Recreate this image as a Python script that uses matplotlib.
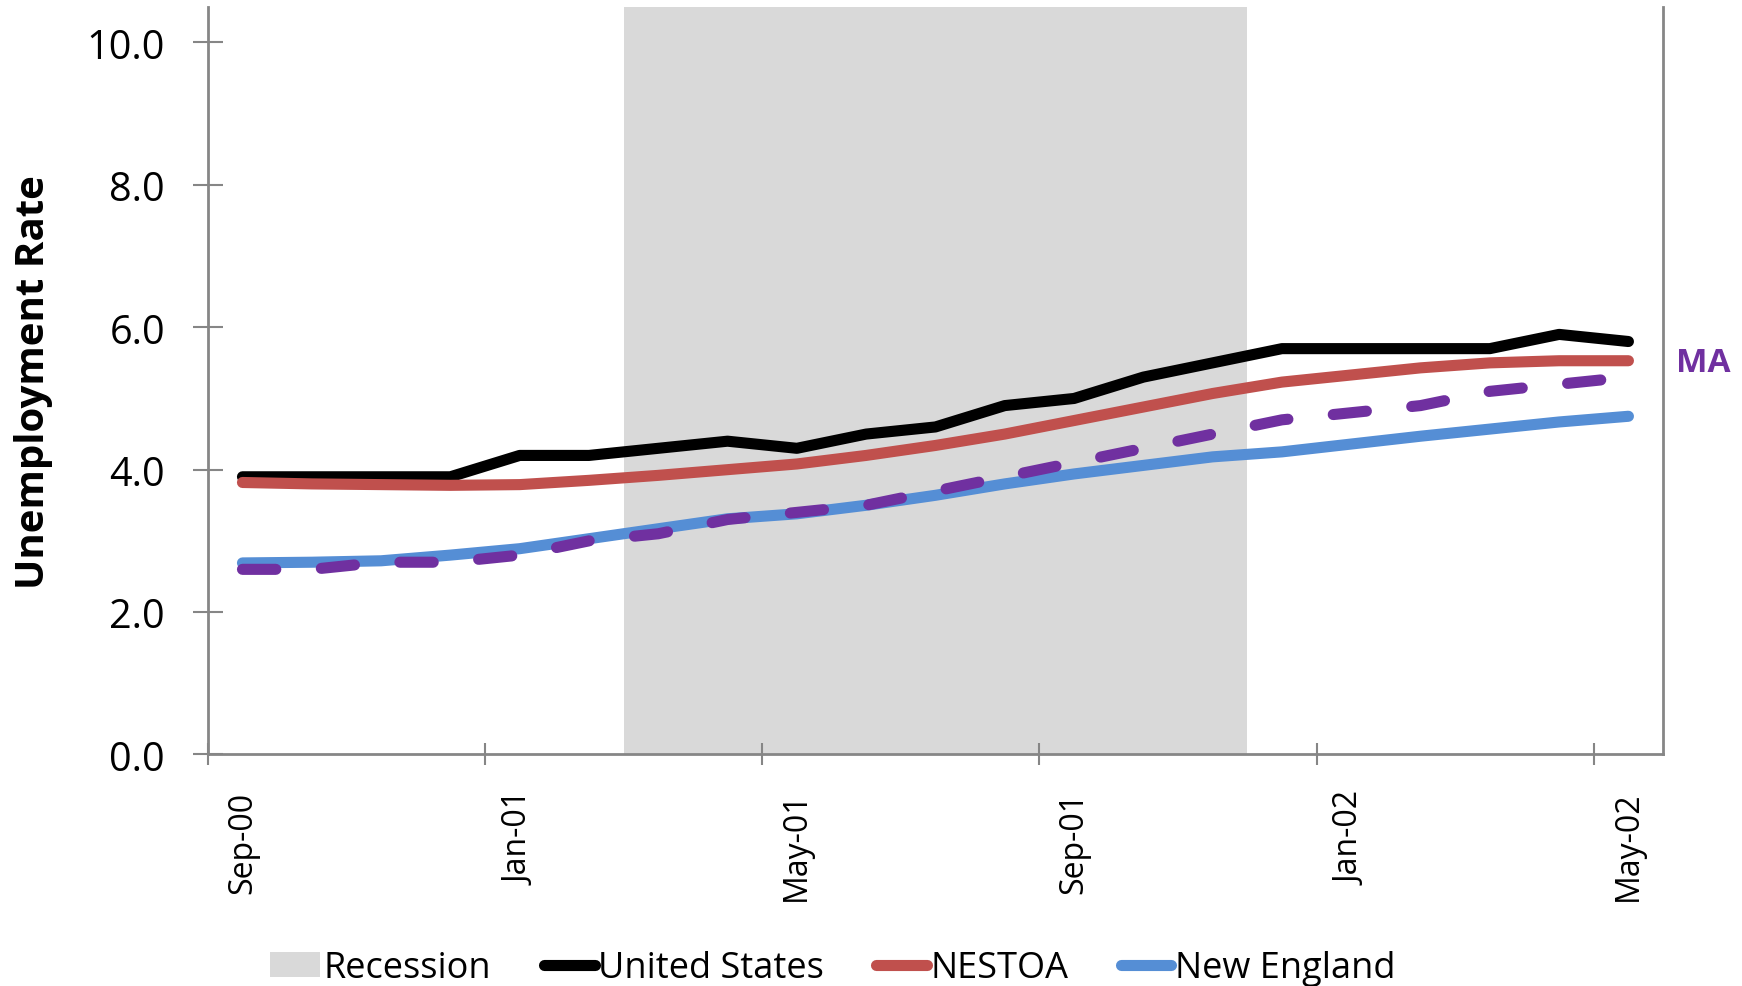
import matplotlib.pyplot as plt

plt.rcParams['font.family'] = ['Open Sans', 'DejaVu Sans']

# --- data ---
months = ['Sep-00', 'Oct-00', 'Nov-00', 'Dec-00', 'Jan-01', 'Feb-01', 'Mar-01',
          'Apr-01', 'May-01', 'Jun-01', 'Jul-01', 'Aug-01', 'Sep-01', 'Oct-01',
          'Nov-01', 'Dec-01', 'Jan-02', 'Feb-02', 'Mar-02', 'Apr-02', 'May-02']
recession = [0, 0, 0, 0, 0, 0, 10.5, 10.5, 10.5, 10.5, 10.5, 10.5, 10.5, 10.5,
             10.5, 0, 0, 0, 0, 0, 0]
united_states = [3.9, 3.9, 3.9, 3.9, 4.2, 4.2, 4.3, 4.4, 4.3, 4.5, 4.6, 4.9,
                 5.0, 5.3, 5.5, 5.7, 5.7, 5.7, 5.7, 5.9, 5.8]
nestoa = [3.82, 3.80, 3.79, 3.78, 3.79, 3.85, 3.92, 4.00, 4.08, 4.20, 4.34,
          4.50, 4.69, 4.88, 5.07, 5.23, 5.33, 5.43, 5.50, 5.53, 5.53]
new_england = [2.69, 2.70, 2.72, 2.80, 2.89, 3.03, 3.17, 3.31, 3.38, 3.50,
               3.64, 3.80, 3.94, 4.06, 4.18, 4.25, 4.36, 4.47, 4.57, 4.67, 4.75]
massachusetts = [2.6, 2.6, 2.7, 2.7, 2.8, 3.0, 3.1, 3.3, 3.4, 3.5, 3.7, 3.9,
                 4.1, 4.3, 4.5, 4.7, 4.8, 4.9, 5.1, 5.2, 5.3]
ma_label = 'MA'
ma_label_value = 5.5

x = list(range(len(months)))
LW = 8

fig = plt.figure(figsize=(17.42, 9.87), dpi=100)
ax = fig.add_axes([0.1193, 0.2346, 0.8354, 0.7574])

rec = ax.bar(x, recession, width=1.0, color='#D9D9D9', label='Recession', zorder=1)
us, = ax.plot(x, united_states, color='black', lw=LW, solid_capstyle='round',
              solid_joinstyle='round', label='United States', zorder=3)
ne_oa, = ax.plot(x, nestoa, color='#C0504D', lw=LW, solid_capstyle='round',
                 solid_joinstyle='round', label='NESTOA', zorder=4)
ne, = ax.plot(x, new_england, color='#558ED5', lw=LW, solid_capstyle='round',
              solid_joinstyle='round', label='New England', zorder=5)
ax.plot(x, massachusetts, color='#7030A0', lw=LW, dash_capstyle='round',
        dashes=(3.0, 4.1), zorder=6)

ax.text(20.68, ma_label_value, ma_label, color='#7030A0', fontsize=24,
        fontweight='bold', va='center', ha='left', clip_on=False)

ax.set_xlim(-0.5, 20.5)
ax.set_ylim(0, 10.5)

ax.set_yticks([0, 2, 4, 6, 8, 10])
ax.set_yticklabels(['%.1f' % v for v in [0, 2, 4, 6, 8, 10]], fontsize=28.5)
ax.tick_params(axis='y', direction='inout', length=21.6, width=1.5,
               color='#868686', pad=20)

ax.set_xticks([i - 0.5 for i in range(0, 21, 4)])
ax.set_xticklabels([])
ax.set_xticks(x[::4], minor=True)
ax.set_xticklabels(months[::4], minor=True, rotation=90, fontsize=23)
ax.tick_params(axis='x', which='major', direction='inout', length=16,
               width=1.5, color='#868686')
ax.tick_params(axis='x', which='minor', length=0, pad=26)

for side in ['left', 'bottom', 'right']:
    ax.spines[side].set_color('#868686')
    ax.spines[side].set_linewidth(2)
ax.spines['top'].set_visible(False)

ax.set_ylabel('Unemployment Rate', fontsize=29, fontweight='bold')
ax.yaxis.set_label_coords(-0.1064, 0.5)

ax.legend([rec, us, ne_oa, ne], ['Recession', 'United States', 'NESTOA', 'New England'],
          loc='center', bbox_to_anchor=(0.478, 0.018), bbox_transform=fig.transFigure,
          ncol=4, frameon=False, fontsize=26, handlelength=1.4,
          handletextpad=0.1, columnspacing=1.45)

plt.savefig('out.png', dpi=100)
